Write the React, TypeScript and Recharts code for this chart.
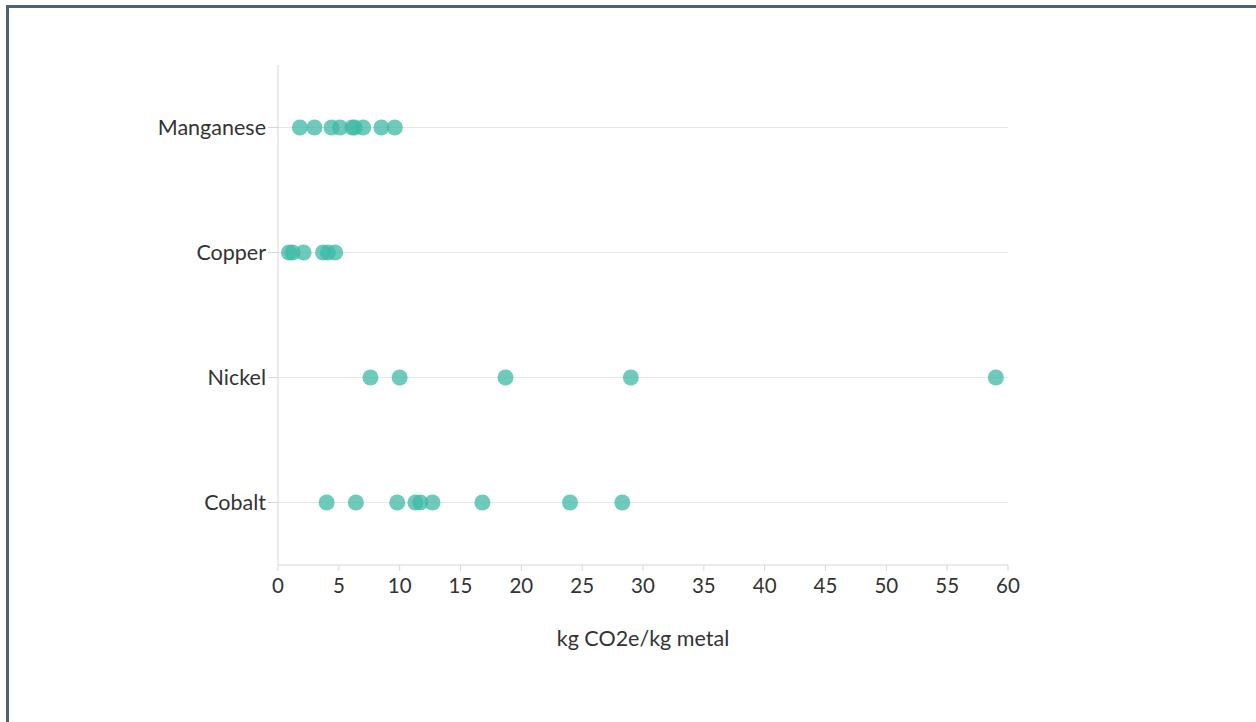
import { ScatterChart, Scatter, XAxis, YAxis, CartesianGrid } from 'recharts';

// bottom to top on the chart
const metals = ['Cobalt', 'Nickel', 'Copper', 'Manganese'];

const cobalt = [4.0, 6.4, 9.8, 11.3, 11.7, 12.7, 16.8, 24.0, 28.3];
const nickel = [7.6, 10.0, 18.7, 29.0, 59.0];
const copper = [0.9, 1.2, 2.1, 3.7, 4.1, 4.7];
const manganese = [1.8, 3.0, 4.4, 5.1, 6.1, 6.3, 7.0, 8.5, 9.6];

const xTicks = [0, 5, 10, 15, 20, 25, 30, 35, 40, 45, 50, 55, 60];
const yTicks = [0, 1, 2, 3];

const series = [cobalt, nickel, copper, manganese];

const FONT = 'Lato, "Noto Sans", sans-serif';
const DOT = '#3dbaa6';

export default function App() {
  return (
    <div style={{ position: 'absolute', left: 0, top: 0, width: 1256, height: 722, background: '#fff' }}>
      <div
        style={{
          position: 'absolute', left: 6, top: 5, width: 1250, height: 717,
          borderTop: '3px solid #4b6470', borderLeft: '3px solid #4b6470',
        }}
      />
      <div style={{ position: 'absolute', left: 0, top: 0 }}>
        <ScatterChart
          width={1256}
          height={722}
          margin={{ top: 65, right: 248, bottom: 67, left: 158 }}
        >
          <CartesianGrid vertical={false} horizontalValues={yTicks} stroke="#e6e6e6" />
          <XAxis
            type="number"
            dataKey="x"
            domain={[0, 60]}
            ticks={xTicks}
            interval={0}
            height={90}
            tickSize={6}
            tickMargin={7}
            stroke="#d6d6d6"
            tick={{ fill: '#333', fontSize: 20.5, fontFamily: FONT }}
            label={{ value: 'kg CO2e/kg metal', position: 'insideBottom', offset: 9, fill: '#333', fontSize: 21.5, fontFamily: FONT }}
          />
          <YAxis
            type="number"
            dataKey="y"
            domain={[-0.5, 3.5]}
            ticks={yTicks}
            interval={0}
            width={120}
            tickSize={10}
            tickMargin={2}
            stroke="#d6d6d6"
            tickFormatter={(i) => metals[i]}
            tick={{ fill: '#333', fontSize: 21.5, fontFamily: FONT }}
          />
          {series.map((vals, i) => (
            <Scatter
              key={metals[i]}
              name={metals[i]}
              data={vals.map(v => ({ x: v, y: i }))}
              fill={DOT}
              fillOpacity={0.75}
              shape={(p: any) => <circle cx={p.cx} cy={p.cy} r={8} fill={DOT} fillOpacity={0.75} />}
              isAnimationActive={false}
            />
          ))}
        </ScatterChart>
      </div>
    </div>
  );
}
